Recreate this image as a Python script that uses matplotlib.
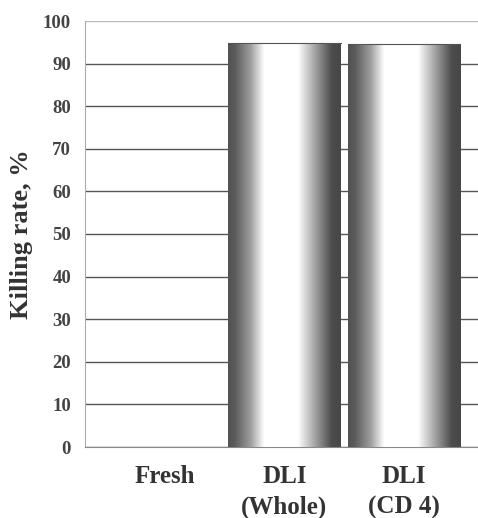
import matplotlib
matplotlib.use("Agg")
import matplotlib.pyplot as plt
import numpy as np

# Datos del gráfico
categorias = ["Fresh", "DLI\n(Whole)", "DLI\n(CD 4)"]
tasa_muerte = [0, 94.8, 94.6]
ticks_y = list(range(0, 101, 10))

plt.rcParams["font.family"] = ["Liberation Serif", "DejaVu Serif"]

fig = plt.figure(figsize=(4.78, 5.18), dpi=100)
ax = fig.add_axes([85 / 478, 1 - 447 / 518, (478 - 85) / 478, (447 - 21) / 518])

x = np.arange(len(categorias))
barras = ax.bar(x, tasa_muerte, width=0.94, color="none", edgecolor="none", zorder=3)

# Sombreado cilíndrico: oscuro en los bordes, blanco en el centro
pos = np.linspace(0, 1, 256)
perfil = np.interp(pos, [0, 0.06, 0.20, 0.32, 0.62, 0.78, 0.92, 1.0],
                   [0.32, 0.36, 0.62, 1.0, 1.0, 0.62, 0.30, 0.28])
grad = np.tile(perfil, (2, 1))
for b in barras:
    if b.get_height() <= 0:
        continue
    x0, w, h = b.get_x(), b.get_width(), b.get_height()
    ax.imshow(grad, cmap="gray", vmin=0, vmax=1, aspect="auto",
              extent=[x0, x0 + w, 0, h], zorder=3, interpolation="bilinear")
    ax.plot([x0, x0 + w], [h, h], color="#555555", lw=0.8, zorder=4)

ax.set_xlim(-0.667, 2.617)
ax.set_ylim(0, 100)
ax.set_yticks(ticks_y)
ax.set_yticklabels([str(t) for t in ticks_y], fontsize=13.5, fontweight="bold", color="#444444")
ax.set_xticks(x)
ax.set_xticklabels(categorias, fontsize=18, fontweight="bold", color="#333333", linespacing=1.42)
ax.tick_params(axis="y", length=0, pad=10)
ax.tick_params(axis="x", length=0, pad=13)
ax.yaxis.grid(True, color="#555555", lw=1.0, zorder=1)
ax.get_ygridlines()[-1].set_color("#bbbbbb")
ax.set_axisbelow(True)

for lado in ["top", "right"]:
    ax.spines[lado].set_visible(False)
ax.spines["left"].set_color("#aaaaaa")
ax.spines["bottom"].set_color("#888888")

ax.set_ylabel("Killing rate, %", fontsize=19, fontweight="bold", color="#333333")
ax.yaxis.set_label_coords((33 - 85) / 393, 0.5)

plt.savefig("out.png", dpi=100)
